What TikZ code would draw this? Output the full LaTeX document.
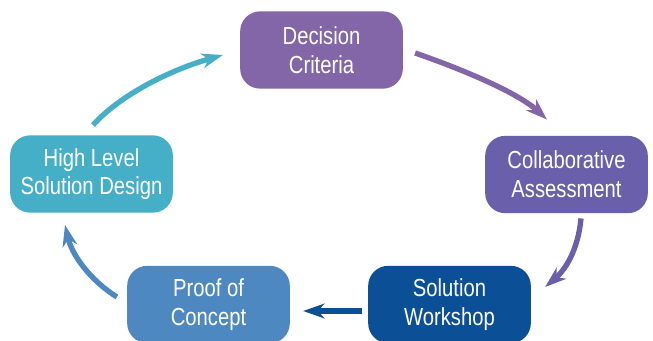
\documentclass[tikz,border=0pt]{standalone}
\usepackage{fontspec}
\setmainfont{Liberation Sans}[FakeStretch=0.82]
\usetikzlibrary{arrows.meta,calc}
\definecolor{dcpurple}{HTML}{8366A8}
\definecolor{capurple}{HTML}{6A5FAA}
\definecolor{swblue}{HTML}{0B4F97}
\definecolor{pcblue}{HTML}{4E88C1}
\definecolor{hlcyan}{HTML}{46AFC8}
\begin{document}
\begin{tikzpicture}[x=0.75pt, y=-0.75pt,
  stage/.style={rounded corners=15pt, minimum width=122pt, minimum height=58pt,
    align=center, text=white, font=\fontsize{18.5}{21.5}\selectfont},
  flow/.style={line width=4pt, -{Stealth[length=16pt,width=11pt,inset=5pt]}}]
\clip (0,0) rectangle (653,340);
\node[stage, fill=dcpurple] (dc) at (321.5,50)  {Decision\\Criteria};
\node[stage, fill=capurple] (ca) at (566.5,174.5) {Collaborative\\Assessment};
\node[stage, fill=swblue]   (sw) at (449.5,304.5) {Solution\\Workshop};
\node[stage, fill=pcblue]   (pc) at (208.5,304.5) {Proof of\\Concept};
\node[stage, fill=hlcyan]   (hl) at (91.5,174)  {High Level\\Solution Design};
\draw[flow, dcpurple] ($(dc.east)+(12,3)$) .. controls +(55,19) and +(-27,-25) .. ($(ca.north)+(-19.5,-16)$);
\draw[flow, capurple] ($(ca.south)+(14.5,5)$) .. controls +(-3,32) and +(20,-17) .. ($(sw.east)+(14,-17.5)$);
\draw[flow, swblue] ($(sw.west)+(-6,6.5)$) -- ($(pc.east)+(13,6.5)$);
\draw[flow, pcblue] ($(pc.west)+(-10,-7.5)$) .. controls +(-27,-17) and +(7,30) .. ($(hl.south)+(-26.5,12)$);
\draw[flow, hlcyan] ($(hl.north)+(1.5,-10)$) .. controls +(27,-30) and +(-53,15) .. ($(dc.west)+(-17,5)$);
\end{tikzpicture}
\end{document}
